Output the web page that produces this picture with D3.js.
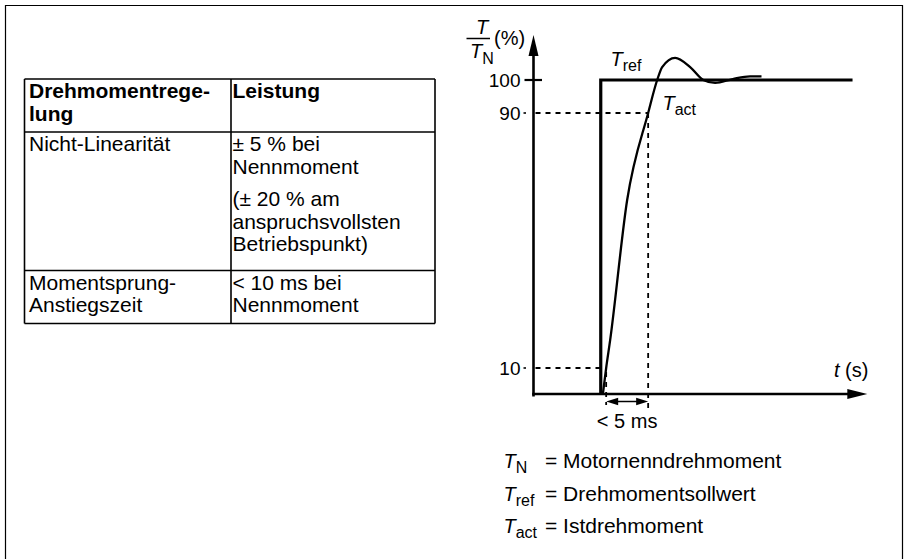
<!DOCTYPE html>
<html>
<head>
<meta charset="utf-8">
<script src="https://cdn.jsdelivr.net/npm/d3@7"></script>
<style>
  body { margin: 0; background: white; }
  svg { display: block; font-family: "Liberation Sans", Arial, sans-serif; }
</style>
</head>
<body>
<svg width="905" height="559"></svg>
<script>
// table content: each cell is a list of paragraphs, each paragraph a list of lines
var headerCells = [[["Drehmomentrege-", "lung"]], [["Leistung"]]];
var bodyRows = [
    [[["Nicht-Linearität"]], [["± 5 % bei", "Nennmoment"], ["(± 20 % am", "anspruchsvollsten", "Betriebspunkt)"]]],
    [[["Momentsprung-", "Anstiegszeit"]], [["< 10 ms bei", "Nennmoment"]]]
];

// step response (time in ms, torque in % of T_N)
var refTime = [0, 0, 30.7];
var refValue = [0, 100, 100];
var actTime = [0.26, 0.66, 1.15, 3.22, 5.78, 6.88, 7.49, 9.07, 10.9, 12.5, 13.95, 16.1, 18.2, 19.6];
var actValue = [0, 10, 18.8, 62.7, 90, 100, 103.9, 106.7, 103.9, 100, 99.1, 100.3, 101.1, 101.1];
var yTicks = [10, 90, 100];

var legendSubs = ["N", "ref", "act"];
var legendTexts = ["Motornenndrehmoment", "Drehmomentsollwert", "Istdrehmoment"];

var svg = d3.select("svg");

// outer frame (bottom edge is outside the picture)
svg.append("path")
    .attr("d", "M5.5,570V5.5H902.5V570")
    .attr("fill", "none")
    .attr("stroke", "black")
    .attr("stroke-width", 1.2);

// ---------- table ----------
var tLeft = 24.5, tDiv = 231, tRight = 435, tTop = 79;
var lead = 22.5, paraGap = 10, paraAfter = 8, padTop = 19, padBottom = 11.5;
var textX = [tLeft + 4.5, tDiv + 1.5];

function cellLines(cell) {
    var out = [], k = 0;
    cell.forEach(function(par, pi) {
        par.forEach(function(line) {
            out.push({text: line, dy: padTop + k * lead + pi * paraGap});
            k++;
        });
    });
    return out;
}

var rows = [headerCells].concat(bodyRows);
var table = svg.append("g");
var yPos = tTop;
var rowLines = [tTop];
rows.forEach(function(row, ri) {
    var h = 0;
    row.forEach(function(cell, ci) {
        var lines = cellLines(cell);
        h = Math.max(h, lines[lines.length - 1].dy + padBottom + (cell.length - 1) * paraAfter);
        table.selectAll(null)
            .data(lines)
            .enter()
            .append("text")
            .attr("x", textX[ci])
            .attr("y", function(d) { return yPos + d.dy; })
            .attr("font-size", 21)
            .attr("font-weight", ri == 0 ? "bold" : "normal")
            .text(function(d) { return d.text; });
    });
    yPos += h;
    rowLines.push(yPos);
});

table.selectAll("line.h")
    .data(rowLines)
    .enter()
    .append("line")
    .attr("x1", tLeft).attr("x2", tRight)
    .attr("y1", function(d) { return d; }).attr("y2", function(d) { return d; })
    .attr("stroke", "black").attr("stroke-width", 1.6);

table.selectAll("line.v")
    .data([tLeft, tDiv, tRight])
    .enter()
    .append("line")
    .attr("x1", function(d) { return d; }).attr("x2", function(d) { return d; })
    .attr("y1", tTop).attr("y2", yPos)
    .attr("stroke", "black").attr("stroke-width", 1.6);

// ---------- chart ----------
var x = d3.scaleLinear().domain([-8.2, 32.5]).range([533.5, 867.3]);
var y = d3.scaleLinear().domain([0, 10, 90, 100, 113.6]).range([394, 368, 113, 80, 35]);

var chart = svg.append("g");
var ax = x(-8.2), ay = y(0);
var xEnd = x(32.5), yEnd = y(113.6);

// axes
chart.append("line")
    .attr("x1", ax).attr("y1", ay + 2.5).attr("x2", ax).attr("y2", yEnd + 18)
    .attr("stroke", "black").attr("stroke-width", 2.6);
chart.append("line")
    .attr("x1", ax - 1.3).attr("y1", ay).attr("x2", xEnd - 18).attr("y2", ay)
    .attr("stroke", "black").attr("stroke-width", 2.6);
chart.append("path")
    .attr("d", "M" + ax + "," + yEnd + "L" + (ax - 5) + "," + (yEnd + 21) + "L" + (ax + 5) + "," + (yEnd + 21) + "Z")
    .attr("fill", "black");
chart.append("path")
    .attr("d", "M" + xEnd + "," + ay + "L" + (xEnd - 20) + "," + (ay - 5) + "L" + (xEnd - 20) + "," + (ay + 5) + "Z")
    .attr("fill", "black");

// y ticks and labels
chart.selectAll(null)
    .data(yTicks)
    .enter()
    .append("line")
    .attr("x1", function(d) { return d == 100 ? ax - 9 : ax - 10; })
    .attr("x2", function(d) { return d == 100 ? ax + 8.5 : ax - 7.5; })
    .attr("y1", function(d) { return y(d); })
    .attr("y2", function(d) { return y(d); })
    .attr("stroke", "black")
    .attr("stroke-width", function(d) { return d == 100 ? 2.2 : 1.6; });

chart.selectAll(null)
    .data(yTicks)
    .enter()
    .append("text")
    .attr("x", 520.5)
    .attr("y", function(d) { return y(d) + 7; })
    .attr("text-anchor", "end")
    .attr("font-size", 19)
    .text(function(d) { return d; });

// guide lines at 10 % and 90 %
var t10 = actTime[actValue.indexOf(10)];
var t90 = actTime[actValue.indexOf(90)];
var dash = function(x1, y1, x2, y2) {
    chart.append("line")
        .attr("x1", x1).attr("y1", y1).attr("x2", x2).attr("y2", y2)
        .attr("stroke", "black").attr("stroke-width", 1.8)
        .attr("stroke-dasharray", "5,5");
};
dash(ax + 2, y(90), x(t90), y(90));
dash(x(t90), y(90), x(t90), ay + 16);
dash(ax + 2, y(10), x(0), y(10));
dash(x(t10), y(10) + 4, x(t10), ay + 11);

// reference and actual torque
var line = d3.line()
    .x(function(d) { return x(d[0]); })
    .y(function(d) { return y(d[1]); });

chart.append("path")
    .attr("d", line(d3.zip(refTime, refValue)))
    .attr("fill", "none")
    .attr("stroke", "black")
    .attr("stroke-width", 3.2);

chart.append("path")
    .attr("d", line.curve(d3.curveMonotoneX)(d3.zip(actTime, actValue)))
    .attr("fill", "none")
    .attr("stroke", "black")
    .attr("stroke-width", 2.3);

// rise time dimension arrow
var da = ay + 7.5;
chart.append("line")
    .attr("x1", x(t10) + 6).attr("y1", da).attr("x2", x(t90) - 6).attr("y2", da)
    .attr("stroke", "black").attr("stroke-width", 1.5);
chart.append("path")
    .attr("d", "M" + x(t10) + "," + da + "l12,-3.8v7.6Z" + "M" + x(t90) + "," + da + "l-12,-3.8v7.6Z")
    .attr("fill", "black");
chart.append("text")
    .attr("x", (x(t10) + x(t90)) / 2)
    .attr("y", 428)
    .attr("text-anchor", "middle")
    .attr("font-size", 20)
    .text("< 5 ms");

// axis titles
chart.append("text")
    .attr("x", 476).attr("y", 34)
    .attr("font-size", 20).attr("font-style", "italic")
    .text("T");
chart.append("line")
    .attr("x1", 466.5).attr("x2", 490).attr("y1", 38.5).attr("y2", 38.5)
    .attr("stroke", "black").attr("stroke-width", 1.5);
var tn = chart.append("text")
    .attr("x", 470).attr("y", 58)
    .attr("font-size", 20);
tn.append("tspan").attr("font-style", "italic").text("T");
tn.append("tspan").attr("font-size", 16).attr("dy", 6).text("N");
chart.append("text")
    .attr("x", 494).attr("y", 45)
    .attr("font-size", 20)
    .text("(%)");

var ts = chart.append("text")
    .attr("x", 834).attr("y", 377)
    .attr("font-size", 20);
ts.append("tspan").attr("font-style", "italic").text("t");
ts.append("tspan").text(" (s)");

function symbol(g, sx, sy, sub) {
    var t = g.append("text")
        .attr("x", sx).attr("y", sy)
        .attr("font-size", 20);
    t.append("tspan").attr("font-style", "italic").text("T");
    t.append("tspan").attr("font-size", 16).attr("dy", 5).text(sub);
}
symbol(chart, 610.5, 66, "ref");
symbol(chart, 662.5, 110, "act");

// legend
var legend = svg.append("g");
legendSubs.forEach(function(s, i) {
    var ly = 468 + i * 32.5;
    symbol(legend, 503.5, ly, s);
    legend.append("text")
        .attr("x", 545).attr("y", ly)
        .attr("font-size", 21)
        .text("= " + legendTexts[i]);
});
</script>
</body>
</html>
